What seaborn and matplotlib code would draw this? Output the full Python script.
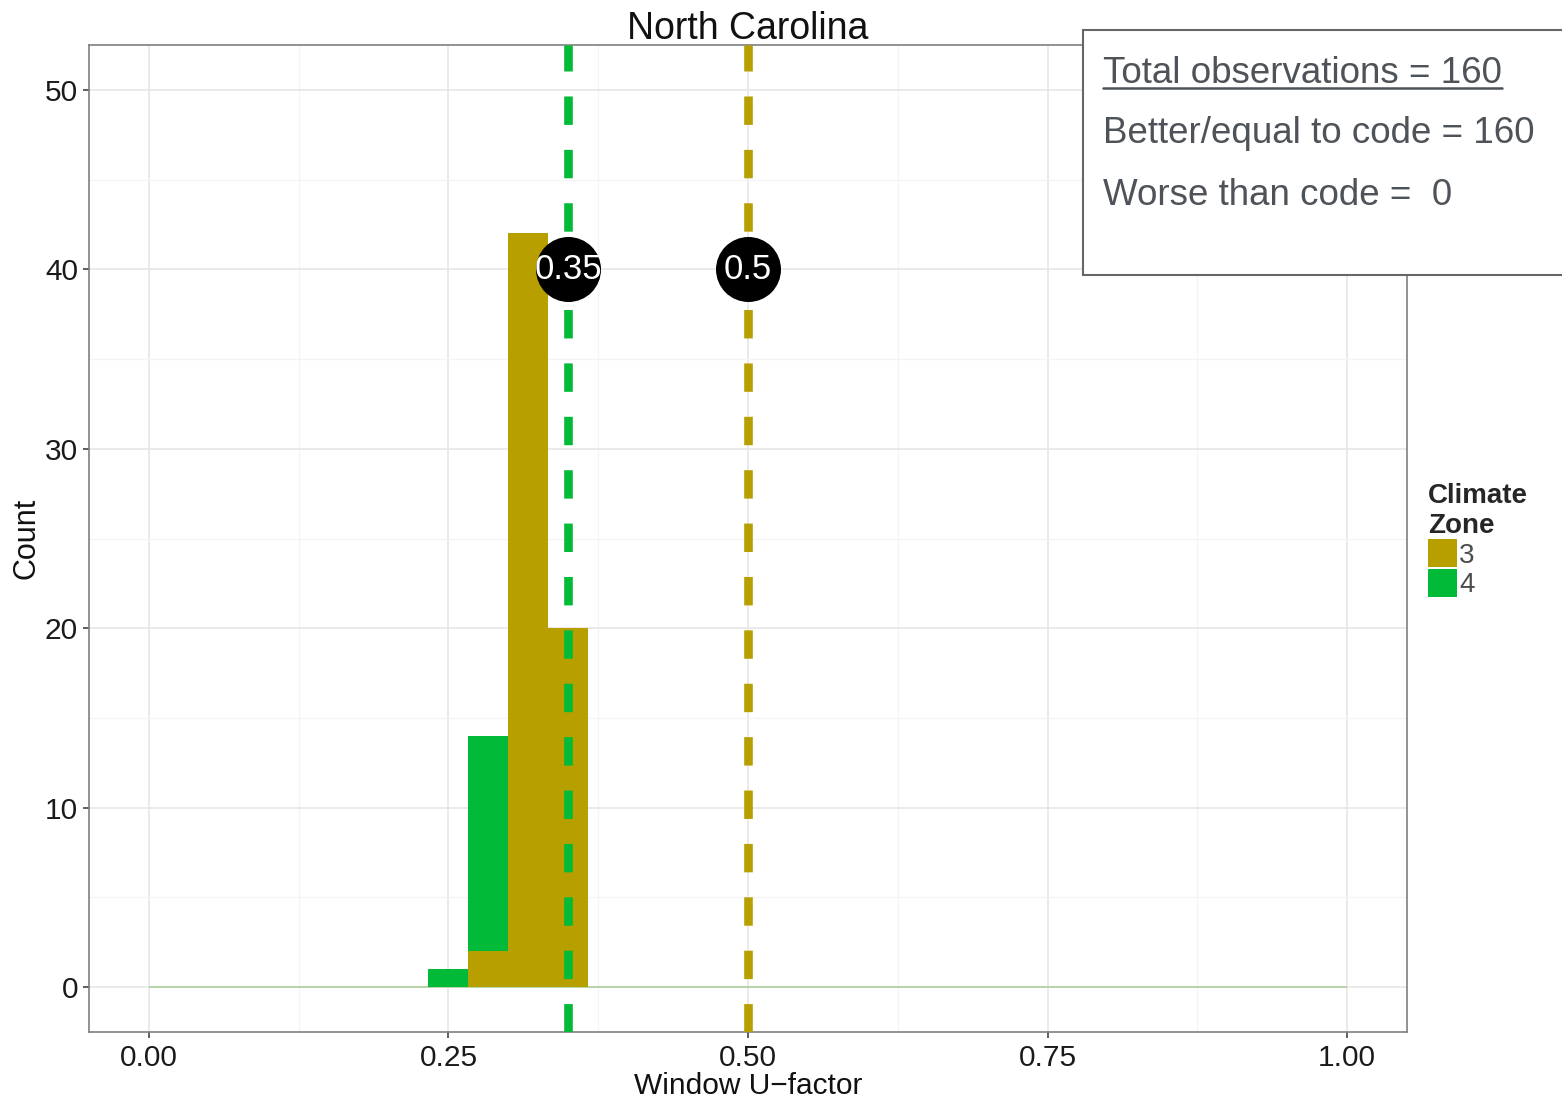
import matplotlib
matplotlib.use("Agg")
import matplotlib.pyplot as plt
from matplotlib.patches import Patch, Rectangle
from matplotlib.lines import Line2D
from matplotlib.ticker import MultipleLocator
import pandas as pd
import seaborn as sns

# Histogram data: bin centres (bins of width 1/30 on 0..1) and counts per climate zone
zone3_centers = [0.2833, 0.3167, 0.35]
zone3_counts = [2, 42, 20]
zone4_centers = [0.25, 0.2833]
zone4_counts = [1, 12]

zones = ["3", "4"]
zone_colors = {"3": "#B79F00", "4": "#00BA38"}
code_values = {"4": 0.35, "3": 0.5}
code_label_y = 40

total_obs = 160
better_obs = 160
worse_obs = 0

x_ticks = [0.0, 0.25, 0.5, 0.75, 1.0]
y_ticks = [0, 10, 20, 30, 40, 50]

df = pd.DataFrame({
    "u_factor": zone3_centers + zone4_centers,
    "count": zone3_counts + zone4_counts,
    "zone": ["3"] * len(zone3_centers) + ["4"] * len(zone4_centers),
})

sns.set_style("white")
plt.rcParams["font.family"] = ["Liberation Sans", "DejaVu Sans"]

fig = plt.figure(figsize=(15.62, 10.99), dpi=100)
ax = fig.add_axes([89 / 1562, 67 / 1099, (1407 - 89) / 1562, (1032 - 45) / 1099])

# stack: last hue level goes to the bottom in seaborn, so put zone 4 first
sns.histplot(data=df, x="u_factor", weights="count", hue="zone", hue_order=["4", "3"],
             multiple="stack", bins=30, binrange=(0, 1), palette=zone_colors,
             alpha=1, linewidth=0, legend=False, ax=ax, zorder=2)

# zero-count bins show as a thin line along the baseline
ax.hlines(0, 0, 1, color="#B3D3A3", linewidth=1.3, zorder=1.5)

for z in zones:
    ax.axvline(code_values[z], color=zone_colors[z], linewidth=6.2,
               linestyle=(0, (3.3, 2.9)), zorder=3)

codes = [code_values["4"], code_values["3"]]
ax.scatter(codes, [code_label_y] * len(codes), s=2190, color="black", zorder=4, linewidths=0)
for c in codes:
    ax.text(c, code_label_y, f"{c:g}", color="white", fontsize=25, ha="center",
            va="center", zorder=5)

ax.set_xlim(-0.05, 1.05)
ax.set_ylim(-2.5, 52.5)
ax.set_xticks(x_ticks)
ax.set_xticklabels([f"{t:.2f}" for t in x_ticks])
ax.set_yticks(y_ticks)
ax.xaxis.set_minor_locator(MultipleLocator(0.125))
ax.yaxis.set_minor_locator(MultipleLocator(5))
ax.grid(which="major", color="#E6E6E6", linewidth=1.2, zorder=0)
ax.grid(which="minor", color="#F4F4F4", linewidth=0.9, zorder=0)
ax.set_axisbelow(True)
ax.tick_params(which="major", direction="out", length=4.5, width=1.1, color="#333333",
               labelsize=21.5, labelcolor="#1a1a1a", pad=3.5, bottom=True, left=True)
ax.tick_params(axis="x", which="major", pad=4.5)
ax.tick_params(which="minor", length=0)
for sp in ax.spines.values():
    sp.set_color("#7F7F7F")
    sp.set_linewidth(1.2)

ax.set_title("North Carolina", fontsize=27, pad=4, color="#111111")
ax.set_xlabel("Window U\u2212factor", fontsize=21.5, labelpad=-0.5, color="#111111")
ax.set_ylabel("Count", fontsize=22, labelpad=2, color="#111111")

handles = [Patch(facecolor=zone_colors[z], edgecolor="none", label=z) for z in zones]
leg = ax.legend(handles=handles, title="Climate\nZone", loc="upper left",
                bbox_to_anchor=(1428 / 1562, 1 - 483 / 1099), bbox_transform=fig.transFigure,
                frameon=False, fontsize=20, title_fontproperties={"weight": "bold", "size": 20},
                handlelength=1.04, handleheight=1.19, labelspacing=0, handletextpad=0.08,
                borderpad=0, borderaxespad=0)
leg._legend_box.align = "left"
for t in leg.get_texts():
    t.set_color("#4d4d4d")

# summary box in the top-right corner
fig.patches.append(Rectangle((1083 / 1562, 1 - 275 / 1099), 0.4, 245 / 1099,
                             transform=fig.transFigure, facecolor="white",
                             edgecolor="#666666", linewidth=1.5, zorder=10))
box_color = "#4d5359"
lines = [f"Total observations = {total_obs}",
         f"Better/equal to code = {better_obs}",
         f"Worse than code =  {worse_obs}"]
baselines = [83, 143, 205]
texts = []
for s, b in zip(lines, baselines):
    texts.append(fig.text(1103 / 1562, 1 - b / 1099, s, fontsize=26.5,
                          color=box_color, va="baseline", ha="left", zorder=11))

fig.canvas.draw()
bb = texts[0].get_window_extent().transformed(fig.transFigure.inverted())
fig.lines.append(Line2D([bb.x0, bb.x1], [1 - 88 / 1099] * 2, transform=fig.transFigure,
                        color=box_color, linewidth=1.8, zorder=11))

fig.savefig("out.png", dpi=100)
